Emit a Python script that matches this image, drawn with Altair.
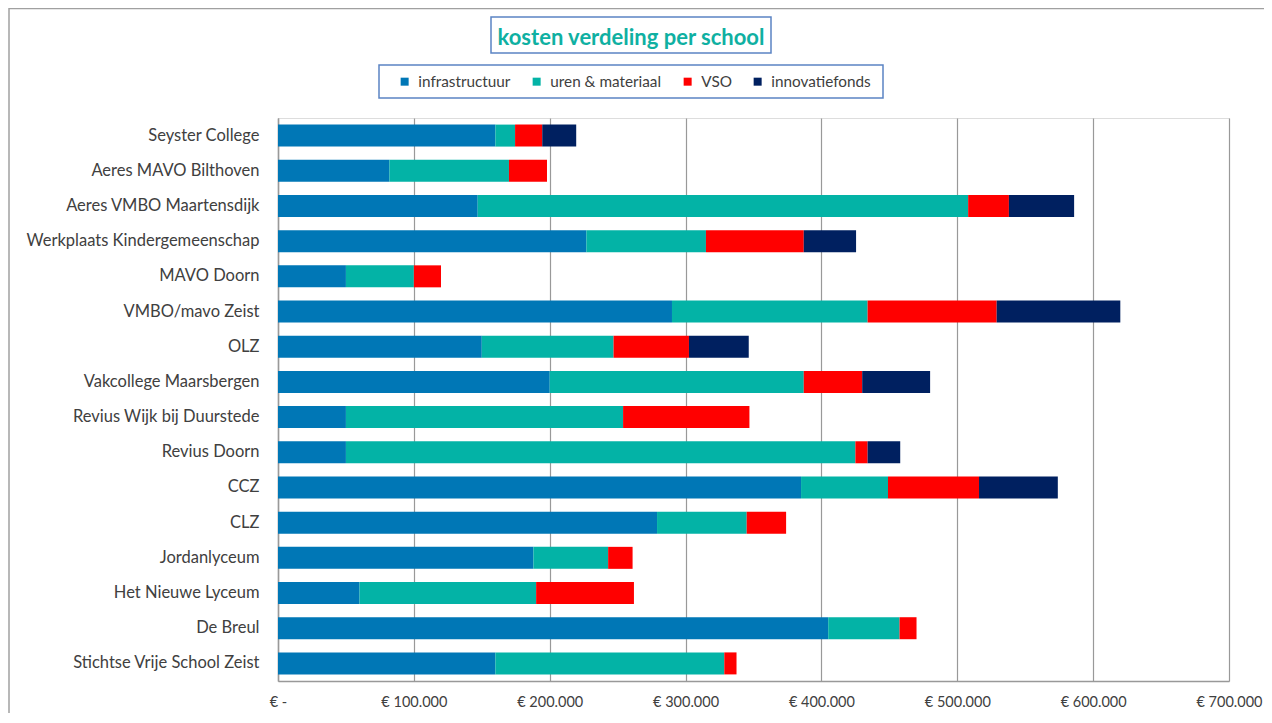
import altair as alt
import pandas as pd

schools = ["Seyster College", "Aeres MAVO Bilthoven", "Aeres VMBO Maartensdijk",
           "Werkplaats Kindergemeenschap", "MAVO Doorn", "VMBO/mavo Zeist", "OLZ",
           "Vakcollege Maarsbergen", "Revius Wijk bij Duurstede", "Revius Doorn",
           "CCZ", "CLZ", "Jordanlyceum", "Het Nieuwe Lyceum", "De Breul",
           "Stichtse Vrije School Zeist"]
infrastructuur = [160000, 82000, 147000, 227000, 50000, 290000, 150000, 200000,
                  50000, 50000, 385000, 279000, 188000, 60000, 405000, 160000]
uren_materiaal = [14500, 88000, 361000, 88000, 50000, 144000, 97000, 187000,
                  204000, 375000, 64000, 66000, 55000, 130000, 52500, 168500]
vso = [20000, 28000, 30000, 72000, 20000, 95000, 55500, 43000,
       93000, 9000, 67000, 29000, 18000, 72000, 12500, 9000]
innovatiefonds = [25000, 0, 48000, 38500, 0, 91000, 44000, 50000,
                  0, 24000, 58000, 0, 0, 0, 0, 0]
series = ["infrastructuur", "uren & materiaal", "VSO", "innovatiefonds"]
colors = ["#0077b6", "#03b3a6", "#ff0000", "#002060"]
x_ticks = [0, 100000, 200000, 300000, 400000, 500000, 600000, 700000]
title_text = "kosten verdeling per school"

rows = []
for si, (name, vals) in enumerate(zip(series, [infrastructuur, uren_materiaal, vso, innovatiefonds])):
    for s, v in zip(schools, vals):
        if v > 0:
            rows.append({"school": s, "serie": name, "bedrag": v, "volgorde": si})
df = pd.DataFrame(rows)

FONT = "Lato"
TXT = "#404040"

bars = alt.Chart(df).mark_bar(size=22).encode(
    y=alt.Y("school:N", sort=schools, title=None,
            axis=alt.Axis(labelFont=FONT, labelFontSize=16.5, labelColor=TXT,
                          labelPadding=19, ticks=False, domainColor="#999999",
                          domainWidth=1.5, labelLimit=300)),
    x=alt.X("bedrag:Q", stack="zero", title=None,
            scale=alt.Scale(domain=[0, 700000], nice=False),
            axis=alt.Axis(values=x_ticks, grid=True, gridColor="#999999", gridWidth=1.2,
                          ticks=False, domainColor="#999999", domainWidth=1.5,
                          labelFont=FONT, labelFontSize=14.5, labelColor=TXT,
                          labelPadding=14, labelFlush=False, labelOverlap=False,
                          labelExpr="datum.value == 0 ? '€ -' : '€ ' + format(datum.value/1000, 'd') + '.000'")),
    color=alt.Color("serie:N", scale=alt.Scale(domain=series, range=colors),
                    legend=alt.Legend(title=None, orient="none", direction="horizontal",
                                      columns=4, legendX=119, legendY=-44,
                                      symbolType="square", symbolSize=64,
                                      symbolStrokeWidth=0, labelOffset=6,
                                      columnPadding=18, padding=0,
                                      labelFont=FONT, labelFontSize=15.3, labelColor=TXT)),
    order=alt.Order("volgorde:Q", sort="ascending"),
)

one = pd.DataFrame({"t": [title_text]})

frame_left = alt.Chart(one).mark_rule(color="#a0a0a0", strokeWidth=1.5).encode(
    x=alt.value(-269), y=alt.value(-110), y2=alt.value(700))
frame_top = alt.Chart(one).mark_rule(color="#a0a0a0", strokeWidth=1.5).encode(
    y=alt.value(-109.5), x=alt.value(-269), x2=alt.value(1100))

title_box = alt.Chart(one).mark_rect(fill="white", stroke="#5b84c4", strokeWidth=1.5).encode(
    x=alt.value(213), x2=alt.value(493), y=alt.value(-101), y2=alt.value(-65))
title_mark = alt.Chart(one).mark_text(font=FONT, fontSize=22, fontWeight="bold",
                                      color="#0fb0a2", align="center", baseline="middle").encode(
    text="t:N", x=alt.value(353), y=alt.value(-80))
legend_box = alt.Chart(one).mark_rect(fill="white", stroke="#5b84c4", strokeWidth=1.5).encode(
    x=alt.value(101), x2=alt.value(605), y=alt.value(-53), y2=alt.value(-20))

chart = alt.layer(frame_left, frame_top, title_box, legend_box, title_mark, bars).properties(
    width=951, height=563,
    autosize=alt.AutoSizeParams(type="none"),
    padding={"left": 270, "top": 110, "right": 35, "bottom": 32},
).configure_view(stroke=None).configure(background="white")

chart.save("out.html", embed_options={"renderer": "svg", "actions": False})
